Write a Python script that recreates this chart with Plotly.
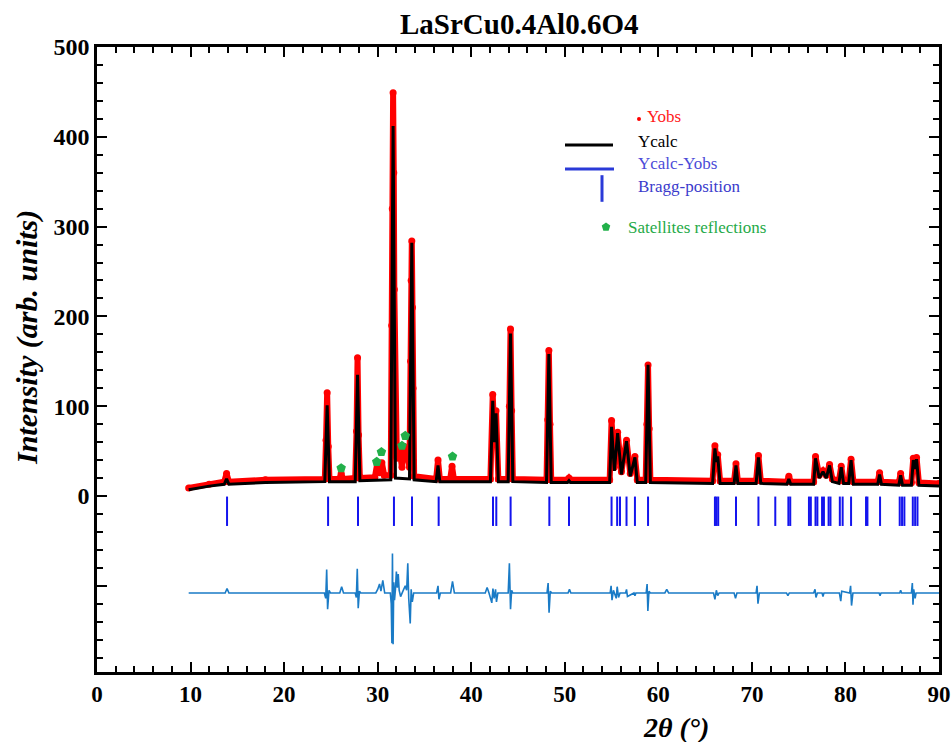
import plotly.graph_objects as go

# ---------------- data ----------------
chart_title = "LaSrCu0.4Al0.6O4"

# calculated profile (2theta, intensity) vertices
calc_tth = [9.8, 12.0, 13.6, 13.85, 14.1, 18.0, 24.35, 24.6, 24.85, 27.6, 27.85, 28.1,
            31.4, 31.65, 31.9, 33.4, 33.65, 33.9, 36.25, 36.45, 36.65, 42.05, 42.3, 42.47,
            42.65, 42.9, 43.95, 44.2, 44.45, 48.05, 48.3, 48.55, 50.3, 50.45, 50.6, 54.8,
            55.0, 55.3, 55.65, 56.05, 56.6, 57.0, 57.5, 57.75, 58.65, 58.9, 59.15, 65.8,
            66.05, 66.2, 66.35, 66.6, 68.1, 68.3, 68.5, 70.45, 70.7, 70.95, 73.75, 73.95,
            74.15, 76.6, 76.8, 77.2, 77.6, 77.95, 78.3, 78.6, 79.3, 79.55, 79.8, 80.35,
            80.6, 80.85, 83.45, 83.65, 83.85, 85.7, 85.9, 86.1, 87.05, 87.25, 87.42, 87.6,
            87.85, 90.0]
calc_int = [7, 11, 13, 19, 13, 15, 16, 101, 16, 16, 135, 17, 18, 412, 20, 19, 282, 18,
            16, 34, 16, 16, 106, 60, 92, 16, 16, 181, 16, 15, 158, 15, 15, 17, 15, 15,
            77, 28, 70, 24, 61, 22, 43, 15, 15, 146, 15, 14, 53, 38, 44, 14, 14, 34, 14,
            14, 43, 14, 13, 19, 13, 13, 42, 20, 27, 20, 34, 16, 14, 32, 14, 14, 40, 13,
            13, 24, 13, 12, 23, 12, 12, 40, 30, 41, 12, 11]

# observed profile (2theta, intensity) points
obs_tth = [9.8, 12.0, 13.6, 13.85, 14.1, 18.0, 24.35, 24.48, 24.6, 24.72, 24.85, 25.9,
           26.1, 26.3, 27.6, 27.74, 27.85, 27.96, 28.1, 29.7, 29.95, 30.2, 30.45, 30.7,
           31.4, 31.5, 31.56, 31.65, 31.72, 31.78, 31.9, 32.05, 32.3, 32.6, 32.85, 33.1,
           33.4, 33.52, 33.58, 33.65, 33.72, 33.78, 33.9, 36.25, 36.45, 36.65, 37.75,
           37.95, 38.15, 42.05, 42.3, 42.47, 42.65, 42.9, 43.95, 44.08, 44.2, 44.32, 44.45,
           48.05, 48.18, 48.3, 48.42, 48.55, 50.3, 50.45, 50.6, 54.8, 55.0, 55.3, 55.65,
           56.05, 56.6, 57.0, 57.5, 57.75, 58.65, 58.78, 58.9, 59.02, 59.15, 65.8, 66.05,
           66.2, 66.35, 66.6, 68.1, 68.3, 68.5, 70.45, 70.7, 70.95, 73.75, 73.95, 74.15,
           76.6, 76.8, 77.2, 77.6, 77.95, 78.3, 78.6, 79.3, 79.55, 79.8, 80.35, 80.6,
           80.85, 83.45, 83.65, 83.85, 85.7, 85.9, 86.1, 87.05, 87.25, 87.42, 87.6, 87.85,
           90.0]
obs_int = [9, 13, 16, 25, 16, 18, 19, 62, 115, 55, 19, 19, 25, 19, 20, 72, 154, 68, 20,
           21, 36, 26, 37, 23, 23, 190, 320, 449, 360, 230, 60, 42, 55, 32, 55, 50, 32,
           150, 240, 284, 210, 120, 22, 19, 40, 19, 19, 33, 19, 19, 113, 65, 95, 19, 19,
           100, 186, 95, 19, 18, 85, 162, 80, 18, 18, 20, 18, 18, 84, 32, 71, 27, 62, 25,
           44, 18, 18, 80, 146, 75, 18, 17, 56, 40, 46, 17, 17, 36, 17, 17, 45, 17, 16,
           22, 16, 16, 44, 23, 28, 23, 35, 19, 17, 33, 17, 17, 41, 16, 16, 26, 16, 15, 25,
           15, 15, 42, 32, 43, 15, 14]

# difference curve Ycalc-Yobs (vertices, drawn shifted by diff_offset)
diff_tth = [9.8, 13.7, 13.9, 14.1, 24.3, 24.45, 24.55, 24.65, 24.8, 24.95, 25.95, 26.15,
            26.35, 27.6, 27.72, 27.82, 27.92, 28.05, 28.2, 29.8, 30.0, 30.2, 30.35, 30.55,
            30.75, 31.35, 31.45, 31.52, 31.58, 31.65, 31.72, 31.8, 31.9, 32.0, 32.1, 32.2,
            32.3, 32.45, 32.7, 32.95, 33.1, 33.22, 33.32, 33.48, 33.58, 33.7, 33.85, 36.3,
            36.45, 36.55, 36.7, 37.8, 38.0, 38.2, 41.5, 41.7, 41.9, 42.2, 42.32, 42.45,
            42.6, 42.7, 42.85, 43.95, 44.08, 44.2, 44.32, 44.45, 48.1, 48.22, 48.32, 48.45,
            48.6, 50.35, 50.5, 50.65, 54.85, 54.95, 55.05, 55.2, 55.5, 55.6, 55.75, 55.9,
            56.5, 56.6, 56.7, 57.4, 57.5, 57.6, 58.7, 58.8, 58.88, 59.0, 59.15, 60.7, 60.9,
            61.1, 65.9, 66.05, 66.2, 66.35, 66.5, 68.1, 68.25, 68.4, 70.45, 70.55, 70.65,
            70.8, 73.7, 73.85, 74.0, 76.6, 76.75, 76.85, 77.0, 77.5, 77.6, 77.7, 79.35,
            79.5, 79.6, 80.45, 80.55, 80.65, 80.8, 83.6, 83.7, 83.8, 85.8, 85.9, 86.0,
            87.05, 87.15, 87.22, 87.3, 87.45, 87.55, 90.0]
diff_int = [0, 0, 5, 0, 0, -6, 26, -18, 3, 0, 0, 7, 0, 0, -5, 27, -17, 2, 0, 0, 4, 10, 2,
            14, 0, 0, -12, -56, 44, -57, 12, -8, 4, 24, 6, 21, 3, -4, 2, 8, 3, 33, -6, -34,
            4, -10, 0, 0, 8, -7, 0, 0, 13, 0, 0, 6, 0, -11, 5, -6, 4, -10, 0, 0, 33, -18, 3,
            0, 0, 11, -22, 2, 0, 0, 4, 0, 0, 8, -8, 3, -6, 7, -5, 0, 0, 4, -4, 0, -3, 0, 0,
            10, -20, 2, 0, 0, 4, 0, 0, -7, 3, -3, 0, 0, -6, 0, 0, 8, -12, 0, 0, -3, 0, 0, 4,
            -5, 0, 0, -4, 0, 0, -9, 2, 0, 8, -14, 0, 0, -3, 0, 0, 3, 0, 0, 11, -13, 4, -6, 0,
            0]
diff_offset = -108

# Bragg reflection positions (2theta)
bragg_pos = [13.9, 24.7, 27.9, 31.74, 33.67, 36.52, 42.33, 42.68, 44.21, 48.35, 50.45,
             55.0, 55.6, 55.9, 56.6, 57.5, 58.9, 66.05, 66.2, 66.4, 68.3, 70.7, 72.5,
             73.9, 74.1, 76.1, 76.3, 76.8, 77.0, 77.5, 77.7, 78.2, 78.4, 79.4, 79.7, 80.6,
             82.2, 82.35, 83.7, 85.8, 86.05, 86.3, 87.2, 87.45, 87.7]
bragg_level = -17

# satellite reflections
sat_tth = [26.1, 29.9, 30.4, 32.6, 32.95, 38.0]
sat_int = [31, 38, 49, 56, 67, 44]

x_tick_vals = [0, 10, 20, 30, 40, 50, 60, 70, 80, 90]
y_tick_vals = [-100, 0, 100, 200, 300, 400, 500]
y_tick_text = ["", "0", "100", "200", "300", "400", "500"]

legend_labels = ["Yobs", "Ycalc", "Ycalc-Yobs", "Bragg-position", "Satellites reflections"]

# ---------------- styling ----------------
SERIF = "Liberation Serif"
W, H = 951, 742
L, R, T, B = 97, 12, 47, 70
PW, PH = W - L - R, H - T - B

RED = "#ff0000"
BLUE = "#1414ee"
DIFF_BLUE = "#1a7bc6"
GREEN = "#22b04a"


def px(x):
    return (x - L) / PW


def py(y):
    return (H - B - y) / PH


fig = go.Figure()

fig.add_trace(go.Scatter(
    x=obs_tth, y=obs_int, mode="lines+markers",
    line=dict(color=RED, width=6), marker=dict(color=RED, size=7),
    showlegend=False, hoverinfo="skip"))

fig.add_trace(go.Scatter(
    x=calc_tth, y=calc_int, mode="lines",
    line=dict(color="black", width=3), showlegend=False))

fig.add_trace(go.Scatter(
    x=diff_tth, y=[v + diff_offset for v in diff_int], mode="lines",
    line=dict(color=DIFF_BLUE, width=1.6), showlegend=False))

fig.add_trace(go.Scatter(
    x=bragg_pos, y=[bragg_level] * len(bragg_pos), mode="markers",
    marker=dict(symbol="line-ns", size=21, line=dict(color=BLUE, width=2)),
    showlegend=False))

fig.add_trace(go.Scatter(
    x=sat_tth, y=sat_int, mode="markers",
    marker=dict(symbol="pentagon", size=10, color=GREEN), showlegend=False))

# legend glyphs on an overlay axis spanning the plot area in [0, 1]
fig.add_trace(go.Scatter(
    x=[px(639)], y=[py(119)], xaxis="x2", yaxis="y2", mode="markers",
    marker=dict(color=RED, size=4), showlegend=False, hoverinfo="skip"))
fig.add_trace(go.Scatter(
    x=[px(602)], y=[py(188.5)], xaxis="x2", yaxis="y2", mode="markers",
    marker=dict(symbol="line-ns", size=19, line=dict(color="#2a3ad8", width=3)),
    showlegend=False, hoverinfo="skip"))
fig.add_trace(go.Scatter(
    x=[px(606)], y=[py(227)], xaxis="x2", yaxis="y2", mode="markers",
    marker=dict(symbol="pentagon", size=9, color=GREEN),
    showlegend=False, hoverinfo="skip"))

shapes = [
    dict(type="line", xref="paper", yref="paper", x0=px(565), x1=px(613),
         y0=py(145), y1=py(145), line=dict(color="black", width=3)),
    dict(type="line", xref="paper", yref="paper", x0=px(565), x1=px(614),
         y0=py(169), y1=py(169), line=dict(color="#2a3ad8", width=3)),
]

legend_font = dict(family=SERIF, size=17)
annotations = [
    dict(text=legend_labels[0], x=px(645), y=py(117), font=dict(legend_font, color="#ff1a1a")),
    dict(text=legend_labels[1], x=px(636), y=py(141), font=dict(legend_font, color="black")),
    dict(text=legend_labels[2], x=px(636), y=py(163), font=dict(legend_font, color="#4b4bd8")),
    dict(text=legend_labels[3], x=px(636), y=py(186), font=dict(legend_font, color="#3b3bcc")),
    dict(text=legend_labels[4], x=px(626), y=py(227), font=dict(legend_font, color="#1faa48")),
]
for a in annotations:
    a.update(xref="paper", yref="paper", xanchor="left", yanchor="middle", showarrow=False)

annotations += [
    dict(text="<b>" + chart_title + "</b>", x=px(519), y=py(24), xref="paper", yref="paper",
         showarrow=False, xanchor="center", yanchor="middle",
         font=dict(family=SERIF, size=29, color="black")),
    dict(text="<b><i>Intensity (arb. units)</i></b>", x=px(27), y=py(338),
         xref="paper", yref="paper", showarrow=False, textangle=-90,
         xanchor="center", yanchor="middle",
         font=dict(family=SERIF, size=30, color="black")),
    dict(text="<b><i>2θ (°)</i></b>", x=px(676), y=py(727), xref="paper", yref="paper",
         showarrow=False, xanchor="center", yanchor="middle",
         font=dict(family=SERIF, size=28, color="black")),
]

axis_common = dict(
    showline=True, linecolor="black", linewidth=2.5, mirror="ticks",
    ticks="inside", ticklen=10, tickwidth=2, tickcolor="black",
    showgrid=False, zeroline=False, automargin=False,
)

fig.update_layout(
    width=W, height=H, autosize=False,
    margin=dict(l=L, r=R, t=T, b=B, pad=0, autoexpand=False),
    paper_bgcolor="white", plot_bgcolor="white",
    showlegend=False,
    shapes=shapes, annotations=annotations,
    xaxis=dict(
        axis_common, range=[0, 90], tickmode="array", tickvals=x_tick_vals,
        tickfont=dict(family=SERIF, size=23, color="black", weight="bold"),
        minor=dict(dtick=2, tick0=0, ticks="inside", ticklen=6, tickwidth=1.5,
                   tickcolor="black", showgrid=False),
    ),
    yaxis=dict(
        axis_common, range=[-196, 500], tickmode="array", tickvals=y_tick_vals,
        ticktext=y_tick_text,
        tickfont=dict(family=SERIF, size=24, color="black", weight="bold"),
        minor=dict(dtick=20, tick0=0, ticks="inside", ticklen=6, tickwidth=1.5,
                   tickcolor="black", showgrid=False),
    ),
    xaxis2=dict(overlaying="x", range=[0, 1], visible=False, fixedrange=True),
    yaxis2=dict(overlaying="y", range=[0, 1], visible=False, fixedrange=True),
)

fig.write_html("out.html", config={"responsive": False})
